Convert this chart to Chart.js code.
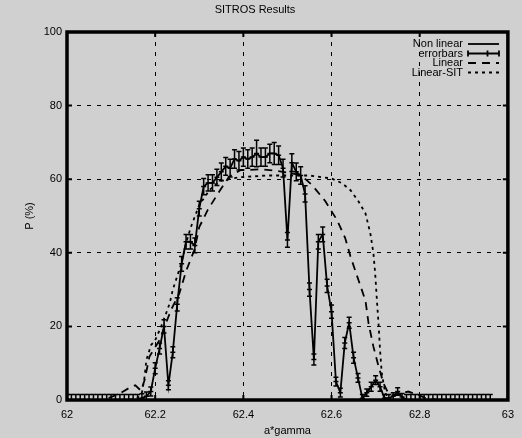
<!DOCTYPE html>
<html>
<head>
<meta charset="utf-8">
<title>SITROS Results</title>
<script src="https://cdn.jsdelivr.net/npm/chart.js@4/dist/chart.umd.min.js"></script>
<style>
  html, body { margin: 0; padding: 0; background: #d0d0d0; }
  #myChart { display: block; }
</style>
</head>
<body>
<canvas id="myChart" width="522" height="438"></canvas>
<script>
// axis ticks
const xTicks = [62, 62.2, 62.4, 62.6, 62.8, 63];
const yTicks = [0, 20, 40, 60, 80, 100];

// non linear run, with its error bars
const gammaX = [
  62.00, 62.01, 62.02, 62.03, 62.04, 62.05, 62.06, 62.07, 62.08, 62.09,
  62.10, 62.11, 62.12, 62.13, 62.14, 62.15, 62.16, 62.17, 62.18, 62.19,
  62.20, 62.21, 62.22, 62.23, 62.24, 62.25, 62.26, 62.27, 62.28, 62.29,
  62.30, 62.31, 62.32, 62.33, 62.34, 62.35, 62.36, 62.37, 62.38, 62.39,
  62.40, 62.41, 62.42, 62.43, 62.44, 62.45, 62.46, 62.47, 62.48, 62.49,
  62.50, 62.51, 62.52, 62.53, 62.54, 62.55, 62.56, 62.57, 62.58, 62.59,
  62.60, 62.61, 62.62, 62.63, 62.64, 62.65, 62.66, 62.67, 62.68, 62.69,
  62.70, 62.71, 62.72, 62.73, 62.74, 62.75, 62.76, 62.77, 62.78, 62.79,
  62.80, 62.81, 62.82, 62.83, 62.84, 62.85, 62.86, 62.87, 62.88, 62.89,
  62.90, 62.91, 62.92, 62.93, 62.94, 62.95, 62.96
];
const pNonLinear = [
  0, 0, 0, 0, 0, 0, 0, 0, 0, 0,
  0, 0, 0, 0, 0, 0, 0, 0.5, 1, 2.3,
  8.6, 14, 20, 4, 13, 26, 37, 43, 43, 42,
  52, 58, 59, 59, 60.5, 62, 63.5, 63, 65.5, 65,
  66, 65.5, 66, 67, 66, 66, 67, 67, 66.5, 63,
  43.5, 64.5, 62, 61, 56, 30, 11, 43, 45, 31,
  24, 5, 2, 15.5, 21, 11.5, 6, 0.5, 2, 3.6,
  5.4, 3.6, 0.5, 0.5, 1, 2.3, 0.8, 0, 0, 0,
  0, 0, 0, 0, 0, 0, 0, 0, 0, 0,
  0, 0, 0, 0, 0, 0, 0
];
const pErr = [
  1.5, 1.5, 1.5, 1.5, 1.5, 1.5, 1.5, 1.5, 1.5, 1.5,
  1.5, 1.5, 1.5, 1.5, 1.5, 1.5, 1.5, 1.2, 1.2, 1.2,
  1.5, 1.5, 1.8, 1.2, 1.5, 1.8, 2, 2, 2, 2,
  2, 2.2, 2.2, 2.2, 2.2, 2.4, 2.4, 2.4, 2.5, 2.5,
  2.5, 2.5, 2.5, 3.6, 2.5, 2.5, 2.5, 3, 2.5, 2.4,
  2, 2.4, 2.4, 2.4, 2.2, 1.8, 1.5, 2, 2, 1.8,
  1.8, 1.2, 1.2, 1.5, 1.5, 1.5, 1.2, 1, 1, 1.2,
  1.2, 1.2, 1, 1, 1, 1, 1, 1.5, 1.5, 1.5,
  1.5, 1.5, 1.5, 1.5, 1.5, 1.5, 1.5, 1.5, 1.5, 1.5,
  1.5, 1.5, 1.5, 1.5, 1.5, 1.5, 1.5
];

// linear model
const linX = [
  62.00, 62.08, 62.10, 62.12, 62.14, 62.155, 62.168, 62.176, 62.187, 62.21,
  62.236, 62.255, 62.27, 62.289, 62.30, 62.319, 62.345, 62.368, 62.394, 62.413,
  62.44, 62.473, 62.50, 62.526, 62.541, 62.556, 62.586, 62.612, 62.631, 62.643,
  62.661, 62.677, 62.684, 62.695, 62.707, 62.718, 62.729, 62.74, 62.752, 62.774,
  62.797, 62.813, 62.842, 62.96
];
const pLinear = [
  0, 0, 0.8, 1.8, 3.2, 4, 2.5, 5.4, 11.8, 16.3,
  24.5, 29, 35, 40.8, 47, 51.6, 56.6, 60.7, 62.5, 62.5,
  62.7, 62.3, 61.8, 61.2, 60, 58.4, 54, 49, 44, 39,
  32.6, 27, 20.8, 14.5, 9, 4.5, 1.8, 1.2, 1.5, 2.3,
  1.4, 0.5, 0, 0
];

// linear model with SIT
const sitX = [
  62.00, 62.14, 62.16, 62.17, 62.176, 62.18, 62.191, 62.199, 62.212, 62.225,
  62.233, 62.24, 62.251, 62.259, 62.27, 62.281, 62.30, 62.323, 62.345, 62.39,
  62.45, 62.50, 62.55, 62.60, 62.624, 62.643, 62.661, 62.677, 62.688, 62.695,
  62.699, 62.703, 62.707, 62.71, 62.714, 62.722, 62.734, 62.96
];
const pLinearSit = [
  0, 0, 0.5, 2, 6.3, 10.9, 15, 16, 19.5, 23.6,
  26.3, 30, 34, 37, 42.6, 47, 53, 57, 59.5, 60.5,
  61, 61, 61, 60.2, 58.9, 57, 54, 50.7, 45.3, 39.9,
  34.4, 27, 20, 13.6, 7.2, 1.8, 0, 0
];

function pairs(xs, ys) {
  return xs.map((v, i) => ({ x: v, y: ys[i] }));
}

Chart.defaults.font.family = "'Liberation Sans Narrow', 'Liberation Sans', Arial, sans-serif";
Chart.defaults.font.size = 11;
Chart.defaults.color = '#000';

// error bars, frame and inward tics
const framePlugin = {
  id: 'framePlugin',
  afterDatasetsDraw(chart) {
    const { ctx, chartArea: a, scales: { x, y } } = chart;
    ctx.save();
    ctx.beginPath();
    ctx.rect(a.left, a.top, a.right - a.left, a.bottom - a.top);
    ctx.clip();
    ctx.strokeStyle = '#000';
    ctx.lineWidth = 1.5;
    gammaX.forEach((g, i) => {
      const px = x.getPixelForValue(g);
      const v = pNonLinear[i];
      const e = pErr[i];
      const lo = y.getPixelForValue(v - e);
      const hi = y.getPixelForValue(v + e);
      const mid = y.getPixelForValue(v);
      ctx.beginPath();
      ctx.moveTo(px, lo);
      ctx.lineTo(px, hi);
      [lo, mid, hi].forEach((yy) => {
        ctx.moveTo(px - 2.5, yy);
        ctx.lineTo(px + 2.5, yy);
      });
      ctx.stroke();
    });
    ctx.restore();

    ctx.save();
    ctx.strokeStyle = '#000';
    ctx.lineWidth = 2;
    ctx.beginPath();
    xTicks.forEach((t) => {
      const px = x.getPixelForValue(t);
      ctx.moveTo(px, a.bottom); ctx.lineTo(px, a.bottom - 5);
      ctx.moveTo(px, a.top); ctx.lineTo(px, a.top + 5);
    });
    yTicks.forEach((t) => {
      const py = y.getPixelForValue(t);
      ctx.moveTo(a.left, py); ctx.lineTo(a.left + 5, py);
      ctx.moveTo(a.right, py); ctx.lineTo(a.right - 5, py);
    });
    ctx.stroke();
    ctx.lineWidth = 3.5;
    ctx.strokeRect(a.left, a.top, a.right - a.left, a.bottom - a.top);
    ctx.restore();
  },
  afterDraw(chart) {
    const { ctx } = chart;
    const sets = chart.data.datasets;
    const rows = [
      { label: sets[0].label, dash: [] },
      { label: 'errorbars', bars: true },
      { label: sets[1].label, dash: sets[1].borderDash },
      { label: sets[2].label, dash: sets[2].borderDash }
    ];
    const textRight = 463, x0 = 468, x1 = 499;
    ctx.save();
    ctx.font = "11px 'Liberation Sans Narrow', 'Liberation Sans', Arial, sans-serif";
    ctx.fillStyle = '#000';
    ctx.strokeStyle = '#000';
    ctx.textAlign = 'right';
    ctx.textBaseline = 'middle';
    rows.forEach((r, i) => {
      const yy = 44 + i * 9.5;
      ctx.fillText(r.label, textRight, yy);
      ctx.lineWidth = 1.8;
      ctx.setLineDash(r.bars ? [] : r.dash);
      ctx.beginPath();
      ctx.moveTo(x0, yy);
      ctx.lineTo(x1, yy);
      if (r.bars) {
        ctx.moveTo(x0, yy - 3); ctx.lineTo(x0, yy + 3);
        ctx.moveTo(x1, yy - 3); ctx.lineTo(x1, yy + 3);
        const xm = (x0 + x1) / 2 + 4;
        ctx.moveTo(xm, yy - 3); ctx.lineTo(xm, yy + 3);
      }
      ctx.stroke();
    });
    ctx.restore();
  }
};

new Chart(document.getElementById('myChart').getContext('2d'), {
  type: 'line',
  data: {
    datasets: [
      {
        label: 'Non linear',
        data: pairs(gammaX, pNonLinear),
        borderColor: '#000',
        borderWidth: 1.8,
        pointRadius: 0,
        tension: 0
      },
      {
        label: 'Linear',
        data: pairs(linX, pLinear),
        borderColor: '#000',
        borderWidth: 1.8,
        borderDash: [8, 6],
        pointRadius: 0,
        tension: 0
      },
      {
        label: 'Linear-SIT',
        data: pairs(sitX, pLinearSit),
        borderColor: '#000',
        borderWidth: 1.8,
        borderDash: [3, 4],
        pointRadius: 0,
        tension: 0
      }
    ]
  },
  options: {
    responsive: false,
    animation: false,
    devicePixelRatio: 1,
    layout: { padding: { left: 0, right: 12, top: 0, bottom: 0 } },
    plugins: {
      legend: { display: false },
      tooltip: { enabled: false },
      title: {
        display: true,
        text: 'SITROS Results',
        font: { size: 11, weight: 'normal' },
        padding: { top: 3, bottom: 15.8 }
      }
    },
    scales: {
      x: {
        type: 'linear',
        min: 62,
        max: 63,
        afterBuildTicks: (s) => { s.ticks = xTicks.map((value) => ({ value })); },
        afterFit: (s) => { s.height = 38; },
        ticks: {
          padding: 8,
          maxRotation: 0,
          autoSkip: false,
          callback: (v) => String(Math.round(v * 10) / 10)
        },
        grid: { color: '#000', lineWidth: 1, drawTicks: false },
        border: { display: false, dash: [4, 6] },
        title: { display: true, text: 'a*gamma', padding: { top: 0, bottom: 0 } }
      },
      y: {
        min: 0,
        max: 100,
        afterBuildTicks: (s) => { s.ticks = yTicks.map((value) => ({ value })); },
        afterFit: (s) => { s.width = 67; },
        ticks: { padding: 5, autoSkip: false },
        grid: { color: '#000', lineWidth: 1, drawTicks: false },
        border: { display: false, dash: [4, 6] },
        title: { display: true, text: 'P (%)', padding: { top: 23, bottom: 0 } }
      }
    }
  },
  plugins: [framePlugin]
});
</script>
</body>
</html>
